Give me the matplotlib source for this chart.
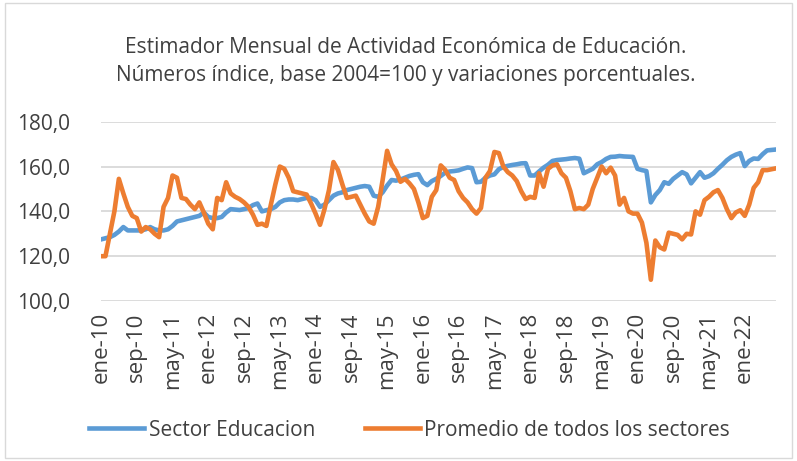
import numpy as np
import matplotlib
matplotlib.use("Agg")
import matplotlib.pyplot as plt
from matplotlib.patches import Rectangle

plt.rcParams['font.family'] = ['Open Sans', 'DejaVu Sans']

# data: monthly index, ene-10 .. ago-22
educacion = [
    127.5, 128, 128.5, 129.5, 131, 133, 131.5, 131.5, 131.5, 131.5, 132, 133,
    132, 131.5, 131.5, 132, 133.5, 135.5, 136, 136.5, 137, 137.5, 138, 139.5,
    137.5, 137, 137, 137.5, 139.5, 141, 140.8, 140.6, 141, 141.5, 142.8, 143.5,
    140, 140.5, 141, 142, 144, 145, 145.3, 145.3, 145, 145.5, 146, 146,
    145, 142, 143, 145, 147, 148, 148.5, 149.5, 150, 150.5, 151, 151.3,
    151, 147, 146.5, 148.5, 151.5, 154, 153.7, 154.2, 155, 155.8, 156.3, 156.6,
    153, 151.7, 153.5, 154.5, 155.8, 157.3, 157.8, 158, 158.3, 159, 159.6, 159.3,
    153, 153.2, 155, 156, 156.5, 158.8, 159.8, 160.3, 160.7, 161, 161.4, 161.5,
    156, 156, 157.8, 159.5, 160.8, 162.5, 162.9, 163.1, 163.3, 163.6, 163.8, 163.5,
    157, 158, 159, 161, 162, 163.4, 164.3, 164.4, 164.7, 164.5, 164.4, 164.3,
    159, 158.4, 158, 144, 147.3, 149.5, 153, 152.3, 154.5, 156, 157.5, 156.5,
    152.5, 155, 157.5, 155, 155.7, 157, 159, 160.8, 162.8, 164.3, 165.3, 166,
    160.2, 162.5, 163.6, 163.4, 165.5, 167.2, 167.4, 167.6,
]
promedio = [
    120, 120, 130, 140, 154.5, 148, 142, 138, 137, 131, 133, 132,
    130, 128.5, 142, 146, 156, 155, 146, 145.5, 143, 141, 144, 139.5,
    134.5, 132, 146, 145, 153, 148, 146.5, 145.5, 144, 142, 138.5, 134,
    134.5, 133.5, 143, 152, 160, 159, 155, 149, 148.5, 148, 147.5, 143.5,
    139, 134, 141, 149.5, 162, 158.5, 152, 146, 146.5, 147, 143, 139,
    135.5, 134.5, 142, 154, 167, 161, 158, 153.2, 154.5, 152.5, 150, 144,
    137, 138, 146.5, 149.5, 160.5, 158.5, 155, 154, 149, 146, 144, 141,
    139, 141.5, 155, 158, 166.5, 166, 160, 157.5, 156, 153.5, 149, 145.5,
    146.5, 146, 157, 151, 159, 160.5, 161, 157, 155, 149, 141, 141.5,
    141, 143, 150, 155, 160, 157, 159.5, 156, 143, 146, 140, 139,
    139, 135, 126, 109.5, 127, 124, 123, 130.5, 130, 129.5, 127.5, 130,
    129.7, 140, 138.5, 145, 146.5, 148.5, 149.5, 146, 141, 137, 139.5, 140.5,
    138, 143, 150.5, 153, 158.4, 158.4, 158.8, 159.2,
]
tick_labels = ['ene-10', 'sep-10', 'may-11', 'ene-12', 'sep-12', 'may-13',
               'ene-14', 'sep-14', 'may-15', 'ene-16', 'sep-16', 'may-17',
               'ene-18', 'sep-18', 'may-19', 'ene-20', 'sep-20', 'may-21',
               'ene-22']
y_ticks = [100, 120, 140, 160, 180]

x = np.arange(len(educacion))

fig = plt.figure(figsize=(7.97, 4.61), dpi=100)
ax = fig.add_axes([0.1267, 0.347, 0.847, 0.389])

ax.plot(x, educacion, color='#5B9BD5', lw=3.3, solid_joinstyle='round',
        label='Sector Educacion')
ax.plot(x, promedio, color='#ED7D31', lw=3.3, solid_joinstyle='round',
        label='Promedio de todos los sectores')

ax.set_xlim(0, len(x) - 1)
ax.set_ylim(100, 180)
ax.set_yticks(y_ticks)
ax.set_yticklabels([f"{v:.1f}".replace('.', ',') for v in y_ticks])
ax.set_xticks(np.arange(0, len(tick_labels) * 8, 8))
ax.set_xticklabels(tick_labels, rotation=90)
ax.tick_params(length=0, colors='#404040')
ax.tick_params(axis='y', labelsize=15, pad=22)
ax.tick_params(axis='x', labelsize=16, pad=8)
ax.grid(axis='y', color='#D9D9D9', lw=1.3)
ax.set_axisbelow(True)
for s in ax.spines.values():
    s.set_visible(False)

fig.text(0.509, 0.898, 'Estimador Mensual de Actividad Económica de Educación.',
         ha='center', va='center', fontsize=15, color='#404040')
fig.text(0.509, 0.837, 'Números índice, base 2004=100 y variaciones porcentuales.',
         ha='center', va='center', fontsize=15, color='#404040')

leg = fig.legend(loc='center', bbox_to_anchor=(0.514, 0.067), ncol=2,
                 frameon=False, fontsize=15, handlelength=2.65,
                 handletextpad=0.2, columnspacing=2.4)
for t in leg.get_texts():
    t.set_color('#404040')

fig.patches.append(Rectangle((0.006, 0.006), 0.988, 0.988, transform=fig.transFigure,
                             fill=False, edgecolor='#D9D9D9', lw=1))

fig.savefig('out.png', dpi=100)
